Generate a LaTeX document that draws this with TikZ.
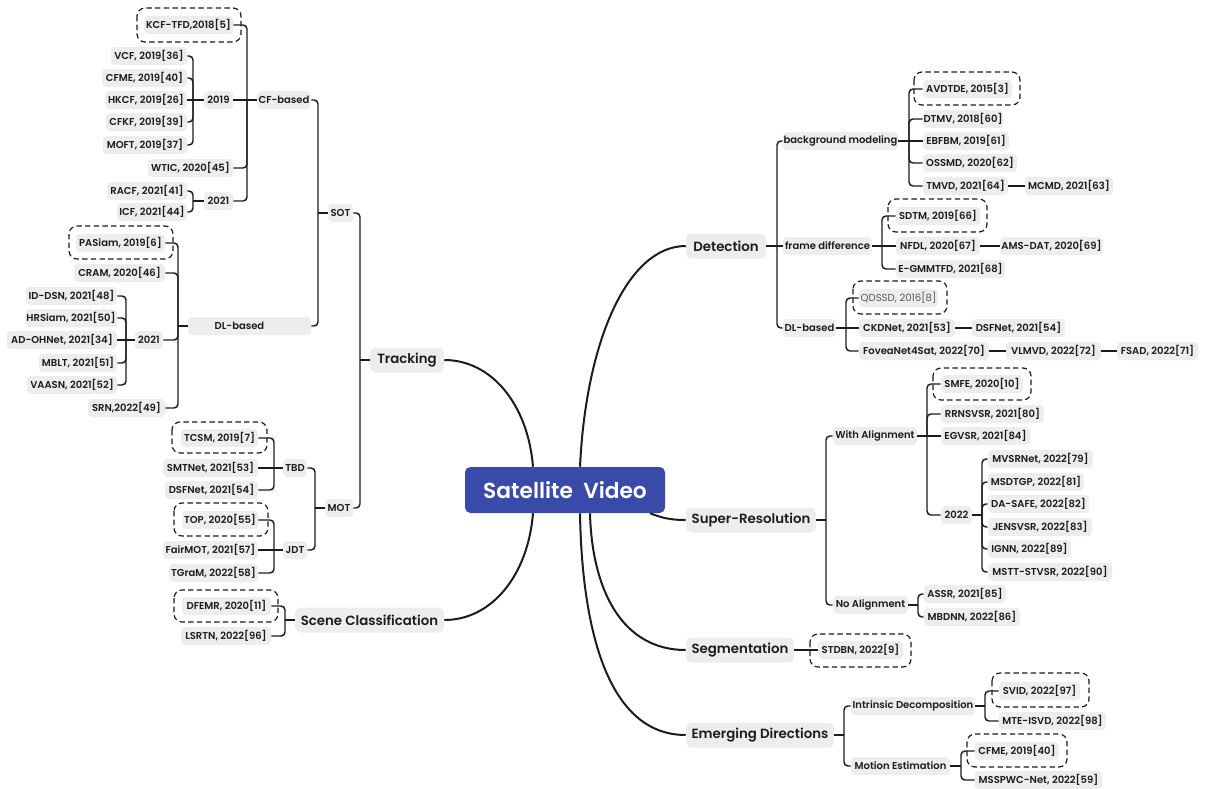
\documentclass[tikz,border=0pt]{standalone}
\usepackage{fontspec}
\setmainfont{Poppins}
\IfFontExistsTF{Poppins SemiBold}{\newfontfamily\sbfont{Poppins SemiBold}}{\newfontfamily\sbfont{Poppins}[FakeBold=1.5]}
\newfontfamily\regfont{Poppins}
\definecolor{boxgray}{HTML}{EDEDED}
\definecolor{txt}{HTML}{1C1C1C}
\definecolor{rootblue}{HTML}{3A4AA8}
\tikzset{
 leaf/.style={fill=boxgray, text=txt, rounded corners=3pt, minimum height=13.5pt, inner sep=0pt, font=\sbfont\fontsize{7.5}{9}\selectfont},
 main/.style={leaf, minimum height=18.75pt, rounded corners=4pt, font=\sbfont\fontsize{10}{12}\selectfont},
 rootbox/.style={fill=rootblue, text=white, rounded corners=4pt, minimum height=34.5pt, inner sep=0pt, font=\sbfont\fontsize{16.3}{19}\selectfont},
 conn/.style={draw=txt, line width=1.1pt, rounded corners=3pt},
 curvelink/.style={draw=txt, line width=1.5pt},
 dashbox/.style={draw=txt, dash pattern=on 4pt off 2.5pt, line width=0.9pt, rounded corners=6pt},
}
\newcommand\bx[6][leaf]{\node[#1, minimum width={(#4-#3)*0.75pt}] (#2) at ({(#3+#4)/2},#5) {#6};}
\newcommand\dbx[4]{\draw[dashbox] (#1,#2) rectangle (#3,#4);}
\newcommand\LeftLink[3]{\coordinate (tmpk) at (#3,0); \draw[conn] (#1.east) -| (tmpk |- #2.west); \draw[conn] (tmpk |- #2.west) -- (#2.west);}
\newcommand\RightLink[3]{\coordinate (tmpk) at (#3,0); \draw[conn] (#2.east) -- (tmpk |- #2.east); \draw[conn] (tmpk |- #2.east) |- (#1.west);}
\newcommand\Straight[2]{\draw[conn] (#1) -- (#2);}
\begin{document}
\begin{tikzpicture}[x=0.75pt,y=-0.75pt]
\useasboundingbox (0,0) rectangle (1207,789);
% dashed highlight boxes
\dbx{137}{8}{241}{42}
\dbx{69}{226}{173}{259}
\dbx{172}{422}{267}{453}
\dbx{174}{503}{268}{536}
\dbx{174}{590}{278}{622}
\dbx{914}{72}{1020}{105}
\dbx{888}{199}{987}{232}
\dbx{853}{281}{947}{314}
\dbx{933}{368}{1031}{400}
\dbx{810}{634}{911}{667}
\dbx{992}{673}{1089}{707}
\dbx{967}{734}{1067}{767}
% root and main topics
\bx[rootbox]{root}{465}{665}{490}{Satellite\ \ Video}
\bx[main]{tracking}{370}{444}{360}{Tracking}
\bx[main]{scene}{295}{444}{620}{Scene Classification}
\bx[main]{detection}{686}{766}{246}{Detection}
\bx[main]{superres}{686}{816}{520}{Super-Resolution}
\bx[main]{seg}{686}{794}{650}{Segmentation}
\bx[main]{emerg}{686}{834}{735}{Emerging Directions}
% ---- Tracking subtree
\bx{sot}{328}{353}{213}{SOT}
\bx{mot}{325}{353}{508}{MOT}
\bx{cfb}{257}{311}{100}{CF-based}
\bx{dlb}{188}{311}{326}{DL-based\rule{15pt}{0pt}}
\bx{kcf}{144}{233}{25}{KCF-TFD,2018[5]}
\bx{ya}{204}{233}{100}{2019}
\bx{wtic}{148}{233}{168}{WTIC, 2020[45]}
\bx{yb}{204}{233}{201}{2021}
\bx{vcf}{111}{187}{56}{VCF, 2019[36]}
\bx{cfme}{102}{187}{78}{CFME, 2019[40]}
\bx{hkcf}{105}{187}{100}{HKCF, 2019[26]}
\bx{cfkf}{106}{187}{122}{CFKF, 2019[39]}
\bx{moft}{103}{187}{145}{MOFT, 2019[37]}
\bx{racf}{107}{187}{191}{RACF, 2021[41]}
\bx{icf}{117}{187}{212}{ICF, 2021[44]}
\bx{pasiam}{76}{165}{243}{PASiam, 2019[6]}
\bx{cram}{74}{165}{273}{CRAM, 2020[46]}
\bx{yc}{135}{163}{340}{2021}
\bx{srn}{88}{165}{408}{SRN,2022[49]}
\bx{iddsn}{26}{117}{296}{ID-DSN, 2021[48]}
\bx{hrsiam}{25}{117}{318}{HRSiam, 2021[50]}
\bx{adoh}{7}{117}{340}{AD-OHNet, 2021[34]}
\bx{mblt}{39}{117}{363}{MBLT, 2021[51]}
\bx{vaasn}{27}{117}{385}{VAASN, 2021[52]}
\bx{tbd}{283}{307}{468}{TBD}
\bx{jdt}{283}{307}{550}{JDT}
\bx{tcsm}{181}{258}{438}{TCSM, 2019[7]}
\bx{smt}{163}{258}{468}{SMTNet, 2021[53]}
\bx{dsfa}{165}{258}{490}{DSFNet, 2021[54]}
\bx{top}{182}{258}{520}{TOP, 2020[55]}
\bx{fair}{163}{258}{550}{FairMOT, 2021[57]}
\bx{tgram}{169}{258}{573}{TGraM, 2022[58]}
\bx{dfemr}{182}{271}{606}{DFEMR, 2020[11]}
\bx{lsrtn}{181}{271}{636}{LSRTN, 2022[96]}
% ---- Detection subtree
\bx{bgm}{783}{898}{141}{background modeling}
\bx{fd}{783}{872}{246}{frame difference}
\bx{dld}{783}{836}{328}{DL-based}
\bx{avd}{923}{1012}{89}{AVDTDE, 2015[3]}
\bx{dtmv}{923}{1003}{119}{DTMV, 2018[60]}
\bx{ebf}{923}{1009}{141}{EBFBM, 2019[61]}
\bx{oss}{923}{1017}{163}{OSSMD, 2020[62]}
\bx{tmvd}{923}{1008}{186}{TMVD, 2021[64]}
\bx{mcmd}{1025}{1113}{186}{MCMD, 2021[63]}
\bx{sdtm}{896}{980}{216}{SDTM, 2019[66]}
\bx{nfdl}{896}{980}{246}{NFDL, 2020[67]}
\bx{ams}{1000}{1103}{246}{AMS-DAT, 2020[69]}
\bx{egmm}{896}{1005}{269}{E-GMMTFD, 2021[68]}
\bx[leaf,font=\regfont\fontsize{7.6}{9}\selectfont,text=black!65]{qdssd}{859}{938}{298}{QDSSD, 2016[8]}
\bx{ckd}{859}{955}{328}{CKDNet, 2021[53]}
\bx{dsfb}{972}{1065}{328}{DSFNet, 2021[54]}
\bx{fovea}{859}{989}{351}{FoveaNet4Sat, 2022[70]}
\bx{vlm}{1006}{1101}{351}{VLMVD, 2022[72]}
\bx{fsad}{1117}{1198}{351}{FSAD, 2022[71]}
% ---- Super-resolution subtree
\bx{wa}{833}{917}{436}{With Alignment}
\bx{na}{833}{908}{605}{No Alignment}
\bx{smfe}{941}{1023}{384}{SMFE, 2020[10]}
\bx{rrn}{941}{1044}{414}{RRNSVSR, 2021[80]}
\bx{egv}{941}{1030}{436}{EGVSR, 2021[84]}
\bx{yd}{941}{972}{515}{2022}
\bx{mvsr}{988}{1093}{459}{MVSRNet, 2022[79]}
\bx{msdt}{988}{1084}{482}{MSDTGP, 2022[81]}
\bx{dasafe}{988}{1089}{504}{DA-SAFE, 2022[82]}
\bx{jens}{988}{1092}{527}{JENSVSR, 2022[83]}
\bx{ignn}{988}{1071}{549}{IGNN, 2022[89]}
\bx{mstt}{988}{1112}{572}{MSTT-STVSR, 2022[90]}
\bx{assr}{924}{1006}{594}{ASSR, 2021[85]}
\bx{mbdnn}{924}{1020}{617}{MBDNN, 2022[86]}
% ---- Segmentation and emerging
\bx{stdbn}{818}{903}{650}{STDBN, 2022[9]}
\bx{intr}{851}{975}{706}{Intrinsic Decomposition}
\bx{mest}{851}{950}{766}{Motion Estimation}
\bx{svid}{999}{1080}{691}{SVID, 2022[97]}
\bx{mte}{999}{1106}{721}{MTE-ISVD, 2022[98]}
\bx{cfmeb}{975}{1059}{751}{CFME, 2019[40]}
\bx{mssp}{975}{1102}{780}{MSSPWC-Net, 2022[59]}
% ---- curves from the root
\coordinate (k533) at (533,0);
\coordinate (k580) at (580,0);
\coordinate (k590) at (590,0);
\coordinate (k650) at (650,0);
\draw[curvelink] (tracking.east) .. controls (492,360) and (528,405) .. (k533 |- root.north);
\draw[curvelink] (detection.west) .. controls (628,246) and (586,340) .. (k580 |- root.north);
\draw[curvelink] (scene.east) .. controls (492,620) and (528,575) .. (k533 |- root.south);
\draw[curvelink] (superres.west) .. controls (668,520) and (660,517) .. (k650 |- root.south);
\draw[curvelink] (seg.west) .. controls (622,650) and (592,590) .. (k590 |- root.south);
\draw[curvelink] (emerg.west) .. controls (608,735) and (582,630) .. (k580 |- root.south);
% ---- left connectors
\foreach \c in {sot,mot} {\LeftLink{\c}{tracking}{360}}
\foreach \c in {cfb,dlb} {\LeftLink{\c}{sot}{318}}
\foreach \c in {kcf,wtic,yb} {\LeftLink{\c}{cfb}{247}}
\Straight{ya.east}{cfb.west}
\foreach \c in {vcf,cfme,cfkf,moft} {\LeftLink{\c}{ya}{193}}
\Straight{hkcf.east}{ya.west}
\foreach \c in {racf,icf} {\LeftLink{\c}{yb}{193}}
\foreach \c in {pasiam,cram,yc,srn} {\LeftLink{\c}{dlb}{178}}
\foreach \c in {iddsn,hrsiam,mblt,vaasn} {\LeftLink{\c}{yc}{126}}
\Straight{adoh.east}{yc.west}
\foreach \c in {tbd,jdt} {\LeftLink{\c}{mot}{315}}
\foreach \c in {tcsm,dsfa} {\LeftLink{\c}{tbd}{274}}
\Straight{smt.east}{tbd.west}
\foreach \c in {top,tgram} {\LeftLink{\c}{jdt}{274}}
\Straight{fair.east}{jdt.west}
\foreach \c in {dfemr,lsrtn} {\LeftLink{\c}{scene}{285}}
% ---- right connectors
\foreach \c in {bgm,dld} {\RightLink{\c}{detection}{777}}
\Straight{detection.east}{fd.west}
\foreach \c in {avd,dtmv,oss,tmvd} {\RightLink{\c}{bgm}{909}}
\Straight{bgm.east}{ebf.west}
\foreach \c in {sdtm,egmm} {\RightLink{\c}{fd}{882}}
\Straight{fd.east}{nfdl.west}
\foreach \c in {qdssd,fovea} {\RightLink{\c}{dld}{846}}
\Straight{dld.east}{ckd.west}
\foreach \c in {wa,na} {\RightLink{\c}{superres}{826}}
\foreach \c in {smfe,rrn,yd} {\RightLink{\c}{wa}{927}}
\Straight{wa.east}{egv.west}
\foreach \c in {mvsr,msdt,dasafe,jens,ignn,mstt} {\RightLink{\c}{yd}{982}}
\foreach \c in {assr,mbdnn} {\RightLink{\c}{na}{918}}
\foreach \c in {intr,mest} {\RightLink{\c}{emerg}{844}}
\foreach \c in {svid,mte} {\RightLink{\c}{intr}{985}}
\foreach \c in {cfmeb,mssp} {\RightLink{\c}{mest}{961}}
\Straight{tmvd.east}{mcmd.west}
\Straight{nfdl.east}{ams.west}
\Straight{ckd.east}{dsfb.west}
\Straight{fovea.east}{vlm.west}
\Straight{vlm.east}{fsad.west}
\Straight{seg.east}{stdbn.west}
\end{tikzpicture}
\end{document}
